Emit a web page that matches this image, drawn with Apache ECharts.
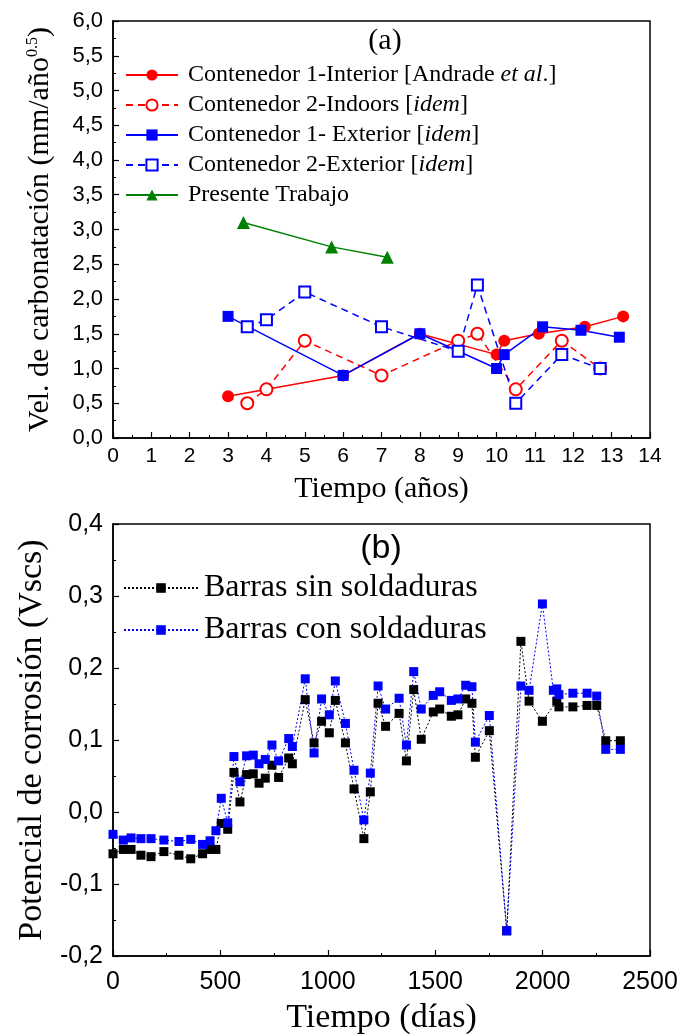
<!DOCTYPE html>
<html><head><meta charset="utf-8">
<script src="https://cdn.jsdelivr.net/npm/echarts@6/dist/echarts.min.js"></script>
<style>html,body{margin:0;padding:0;background:#fff}#c{width:682px;height:1036px}</style>
</head><body><div id="c"></div>
<script>
// ---- Panel (a): carbonation rate vs time (years) ----
const yearsC1Int = [3, 6, 8, 10, 10.2, 11.1, 12.3, 13.3];
const velC1Int   = [0.6, 0.9, 1.5, 1.2, 1.4, 1.5, 1.6, 1.75];
const yearsC2Ind = [3.5, 4, 5, 7, 9, 9.5, 10.5, 11.7, 12.7];
const velC2Ind   = [0.5, 0.7, 1.4, 0.9, 1.4, 1.5, 0.7, 1.4, 1.0];
const yearsC1Ext = [3, 6, 8, 10, 10.2, 11.2, 12.2, 13.2];
const velC1Ext   = [1.75, 0.9, 1.5, 1.0, 1.2, 1.6, 1.55, 1.45];
const yearsC2Ext = [3.5, 4, 5, 7, 9, 9.5, 10.5, 11.7, 12.7];
const velC2Ext   = [1.6, 1.7, 2.1, 1.6, 1.25, 2.2, 0.5, 1.2, 1.0];
const yearsPres  = [3.4, 5.7, 7.15];
const velPres    = [3.1, 2.75, 2.6];
const namesA = ['Contenedor 1-Interior [Andrade et al.]', 'Contenedor 2-Indoors [idem]',
  'Contenedor 1- Exterior [idem]', 'Contenedor 2-Exterior [idem]', 'Presente Trabajo'];
const legendRichA = ['Contenedor 1-Interior [Andrade {i|et al}.]', 'Contenedor 2-Indoors [{i|idem}]',
  'Contenedor 1- Exterior [{i|idem}]', 'Contenedor 2-Exterior [{i|idem}]', 'Presente Trabajo'];

// ---- Panel (b): corrosion potential vs time (days) ----
const daysSin = [0,48,84,130,177,237,307,362,417,452, 479,504,534,563,591,622,653,680,709,740,
  771,818,835,895,936,971,1007,1035,1082,1122, 1168,1198,1234,1269,1332,1366,1400,1435,1491,1521,
  1575,1606,1642,1671,1687,1752,1833,1899,1937,1999, 2066,2076,2141,2207,2252,2294,2362];
const potSin = [-0.058,-0.052,-0.052,-0.060,-0.062,-0.055,-0.060,-0.065,-0.058,-0.052,
  -0.052,-0.016,-0.024,0.055,0.014,0.052,0.053,0.040,0.047,0.065,
  0.048,0.075,0.067,0.156,0.096,0.126,0.110,0.155,0.096,0.032,
  -0.037,0.028,0.151,0.119,0.137,0.071,0.170,0.101,0.139,0.143,
  0.133,0.135,0.157,0.151,0.076,0.113,-0.165,0.237,0.154,0.126,
  0.154,0.146,0.146,0.148,0.148,0.099,0.099];
const daysCon = [0,48,84,130,177,237,307,362,417,452, 479,504,534,563,591,622,653,680,709,740,
  771,818,835,895,936,971,1007,1035,1082,1122, 1168,1198,1234,1269,1332,1366,1400,1435,1491,1521,
  1575,1606,1642,1671,1687,1752,1833,1899,1937,1999, 2050,2066,2076,2141,2207,2252,2294,2362];
const potCon = [-0.031,-0.039,-0.036,-0.037,-0.037,-0.039,-0.041,-0.038,-0.045,-0.040,
  -0.026,0.019,-0.015,0.077,0.042,0.078,0.079,0.067,0.073,0.093,
  0.071,0.102,0.091,0.185,0.082,0.157,0.135,0.182,0.123,0.058,
  -0.011,0.054,0.175,0.143,0.158,0.093,0.195,0.143,0.162,0.167,
  0.155,0.157,0.176,0.174,0.097,0.134,-0.165,0.175,0.169,0.289,
  0.169,0.171,0.163,0.165,0.165,0.161,0.087,0.087];
const namesB = ['Barras sin soldaduras', 'Barras con soldaduras'];

const SERIF = 'Liberation Serif';
const SANS = 'Liberation Sans';
const pairs = (xs, ys) => xs.map((x, i) => [x, ys[i]]);
const comma = v => { const s = (Math.round(v * 10) / 10).toFixed(1).replace('.', ','); return s === '-0,0' ? '0,0' : s; };
const plain = v => String(Math.round(v));

function axisBase(labelSize, fmt, margin) {
  return {
    type: 'value',
    axisLine: { show: true, onZero: false, lineStyle: { color: '#000', width: 1.5 } },
    axisTick: { show: true, inside: true, length: 6, lineStyle: { color: '#000', width: 1.2 } },
    minorTick: { show: true, splitNumber: 2, length: 3, lineStyle: { color: '#000', width: 1 } },
    splitLine: { show: false },
    minorSplitLine: { show: false },
    axisLabel: { color: '#000', fontFamily: SANS, fontSize: labelSize, margin: margin, formatter: fmt }
  };
}

const chart = echarts.init(document.getElementById('c'), null, { renderer: 'canvas' });
chart.setOption({
  animation: false,
  backgroundColor: '#fff',
  grid: [
    { left: 113, top: 21, width: 537, height: 417, show: true, borderColor: '#000', borderWidth: 1.5 },
    { left: 113, top: 524, width: 537, height: 436, show: true, borderColor: '#000', borderWidth: 1.5 }
  ],
  xAxis: [
    Object.assign(axisBase(21, plain, 8), { gridIndex: 0, min: 0, max: 14, interval: 1,
      name: 'Tiempo (años)', nameLocation: 'middle', nameGap: 36,
      nameTextStyle: { fontFamily: SERIF, fontSize: 30, color: '#000' } }),
    Object.assign(axisBase(25, plain, 14), { gridIndex: 1, min: 0, max: 2500, interval: 500,
      name: 'Tiempo (días)', nameLocation: 'middle', nameGap: 45,
      nameTextStyle: { fontFamily: SERIF, fontSize: 34, color: '#000' } })
  ],
  yAxis: [
    Object.assign(axisBase(22, comma, 10), { gridIndex: 0, min: 0, max: 6, interval: 0.5,
      name: 'Vel. de carbonatación (mm/año{sup|0.5})', nameLocation: 'middle', nameGap: 58,
      nameTextStyle: { fontFamily: SERIF, fontSize: 30, color: '#000',
        rich: { sup: { fontFamily: SERIF, fontSize: 16, color: '#000', verticalAlign: 'top' } } } }),
    Object.assign(axisBase(25, comma, 10), { gridIndex: 1, min: -0.2, max: 0.4, interval: 0.1,
      name: 'Potencial de corrosión (Vscs)', nameLocation: 'middle', nameGap: 56,
      nameTextStyle: { fontFamily: SERIF, fontSize: 34, color: '#000' } })
  ],
  legend: [
    { data: namesA, orient: 'vertical', left: 120, top: 58, itemWidth: 52, itemHeight: 14, itemGap: 6,
      formatter: n => legendRichA[namesA.indexOf(n)],
      textStyle: { fontFamily: SERIF, fontSize: 24, lineHeight: 24, color: '#000', padding: [0, 0, 0, 5],
        rich: { i: { fontFamily: SERIF, fontSize: 24, fontStyle: 'italic', color: '#000' } } } },
    { data: namesB, orient: 'vertical', left: 118, top: 567, itemWidth: 74, itemHeight: 12, itemGap: 10,
      textStyle: { fontFamily: SERIF, fontSize: 32, lineHeight: 31, color: '#000', padding: [0, 0, 0, 1] } }
  ],
  graphic: [
    { type: 'text', x: 385, y: 41, style: { text: '(a)', font: '30px "Liberation Serif"', fill: '#000', textAlign: 'center', textVerticalAlign: 'middle' } },
    { type: 'text', x: 381, y: 549, style: { text: '(b)', font: '34px "Liberation Sans"', fill: '#000', textAlign: 'center', textVerticalAlign: 'middle' } }
  ],
  series: [
    { name: namesA[0], type: 'line', xAxisIndex: 0, yAxisIndex: 0, data: pairs(yearsC1Int, velC1Int),
      symbol: 'circle', symbolSize: 12, itemStyle: { color: '#ff0000' }, lineStyle: { color: '#ff0000', width: 1.5 } },
    { name: namesA[1], type: 'line', xAxisIndex: 0, yAxisIndex: 0, data: pairs(yearsC2Ind, velC2Ind),
      symbol: 'emptyCircle', symbolSize: 12, itemStyle: { color: '#ff0000', borderWidth: 1.2 },
      lineStyle: { color: '#ff0000', width: 1.5, type: [7, 5] } },
    { name: namesA[2], type: 'line', xAxisIndex: 0, yAxisIndex: 0, data: pairs(yearsC1Ext, velC1Ext),
      symbol: 'rect', symbolSize: 11, itemStyle: { color: '#0000ff' }, lineStyle: { color: '#0000ff', width: 1.5 } },
    { name: namesA[3], type: 'line', xAxisIndex: 0, yAxisIndex: 0, data: pairs(yearsC2Ext, velC2Ext),
      symbol: 'emptyRect', symbolSize: 11, itemStyle: { color: '#0000ff', borderWidth: 1.2 },
      lineStyle: { color: '#0000ff', width: 1.5, type: [7, 5] } },
    { name: namesA[4], type: 'line', xAxisIndex: 0, yAxisIndex: 0, data: pairs(yearsPres, velPres),
      symbol: 'triangle', symbolSize: 13, itemStyle: { color: '#008000' }, lineStyle: { color: '#008000', width: 1.5 } },
    { name: namesB[0], type: 'line', xAxisIndex: 1, yAxisIndex: 1, data: pairs(daysSin, potSin),
      symbol: 'rect', symbolSize: 9, itemStyle: { color: '#000' }, lineStyle: { color: '#000', width: 1, type: [2, 2] } },
    { name: namesB[1], type: 'line', xAxisIndex: 1, yAxisIndex: 1, data: pairs(daysCon, potCon),
      symbol: 'rect', symbolSize: 9, itemStyle: { color: '#0000ff' }, lineStyle: { color: '#0000ff', width: 1, type: [2, 2] } }
  ]
});
</script>
</body></html>
